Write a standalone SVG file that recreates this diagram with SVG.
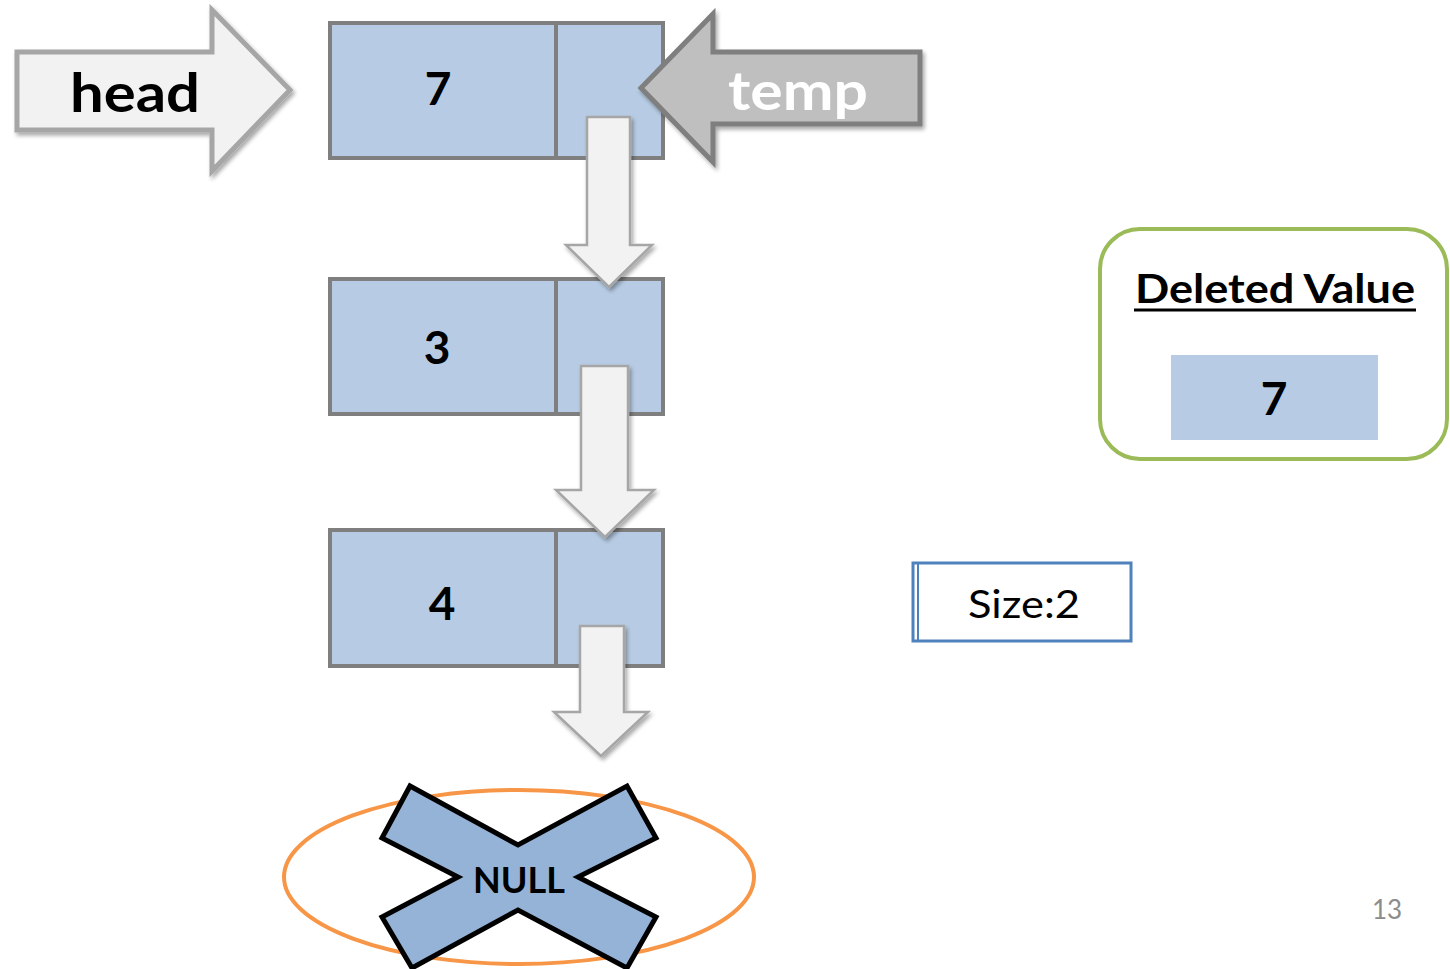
<svg xmlns="http://www.w3.org/2000/svg" width="1450" height="969" viewBox="0 0 1450 969">
<style>
.node{fill:#b7cce4;stroke:#7f7f7f;stroke-width:4}
.div{stroke:#7f7f7f;stroke-width:4}
.down{fill:#f2f2f2;stroke:#a6a6a6;stroke-width:2.5}
.bold{font-family:Lato,"Liberation Sans",sans-serif;font-weight:bold;text-anchor:middle}
.num{font-size:46px;fill:#000}
</style>
<defs>
<filter id="sh" x="-20%" y="-20%" width="140%" height="140%">
<feGaussianBlur in="SourceAlpha" stdDeviation="2"/>
<feOffset dx="2" dy="3" result="b"/>
<feComponentTransfer><feFuncA type="linear" slope="0.35"/></feComponentTransfer>
<feMerge><feMergeNode/><feMergeNode in="SourceGraphic"/></feMerge>
</filter>
</defs>
<rect width="1450" height="969" fill="#fff"/>
<g id="node1">
<rect class="node" x="330" y="23" width="333" height="135"/>
<line class="div" x1="556" y1="23" x2="556" y2="158"/>
<text class="bold num" x="438" y="105">7</text>
</g>
<g id="node2">
<rect class="node" x="330" y="279" width="333" height="135"/>
<line class="div" x1="556" y1="279" x2="556" y2="414"/>
<text class="bold num" x="437" y="364">3</text>
</g>
<g id="node3">
<rect class="node" x="330" y="530" width="333" height="136"/>
<line class="div" x1="556" y1="530" x2="556" y2="666"/>
<text class="bold num" x="442" y="620">4</text>
</g>
<g id="connectors">
<polygon class="down" filter="url(#sh)" points="587,117 630,117 630,245 652,245 609,287 566,245 587,245"/>
<polygon class="down" filter="url(#sh)" points="581,366 628,366 628,490 654,490 605,537 556,490 581,490"/>
<polygon class="down" filter="url(#sh)" points="580,626 624,626 624,712 648,712 601,756 554,712 580,712"/>
</g>
<g id="head">
<polygon filter="url(#sh)" fill="#f2f2f2" stroke="#a6a6a6" stroke-width="5" points="17,52 212,52 212,10 290,90 212,171 212,130 17,130"/>
<text class="bold" x="135" y="112" font-size="54" fill="#000" textLength="130" lengthAdjust="spacingAndGlyphs">head</text>
</g>
<g id="temp">
<polygon filter="url(#sh)" fill="#bfbfbf" stroke="#7f7f7f" stroke-width="5" points="920,52 713,52 713,14 641,88 713,162 713,124 920,124"/>
<text class="bold" x="798" y="110" font-size="54" fill="#fff" textLength="140" lengthAdjust="spacingAndGlyphs">temp</text>
</g>
<g id="null">
<ellipse cx="519" cy="877" rx="235" ry="87" fill="none" stroke="#f79646" stroke-width="4"/>
<polygon fill="#95b3d7" stroke="#000" stroke-width="5" stroke-linejoin="miter" points="410,786 518,845 627,786 656,838 578,877 656,917 627,968 518,910 412,968 382,917 458,877 382,838"/>
<text class="bold" x="519" y="893" font-size="36" fill="#000" textLength="92" lengthAdjust="spacingAndGlyphs">NULL</text>
</g>
<g id="size">
<rect x="913" y="563" width="218" height="78" fill="#fff" stroke="#4f81bd" stroke-width="3"/>
<line x1="918" y1="563" x2="918" y2="641" stroke="#4f81bd" stroke-width="2"/>
<text x="1024" y="618" font-family="Lato,'Liberation Sans',sans-serif" font-size="38" text-anchor="middle" fill="#000" textLength="112" lengthAdjust="spacingAndGlyphs">Size:2</text>
</g>
<g id="deleted">
<rect x="1100" y="229" width="347" height="230" rx="40" fill="#fff" stroke="#9bbb59" stroke-width="4"/>
<text class="bold" x="1275" y="303" font-size="40" fill="#000" textLength="280" lengthAdjust="spacingAndGlyphs">Deleted Value</text>
<line x1="1134" y1="310" x2="1416" y2="310" stroke="#000" stroke-width="3"/>
<rect x="1171" y="355" width="207" height="85" fill="#b7cce4"/>
<text class="bold num" x="1274" y="415">7</text>
</g>
<text x="1387" y="919" font-family="Lato,'Liberation Sans',sans-serif" font-size="26" fill="#8c8c8c" text-anchor="middle">13</text>
</svg>
